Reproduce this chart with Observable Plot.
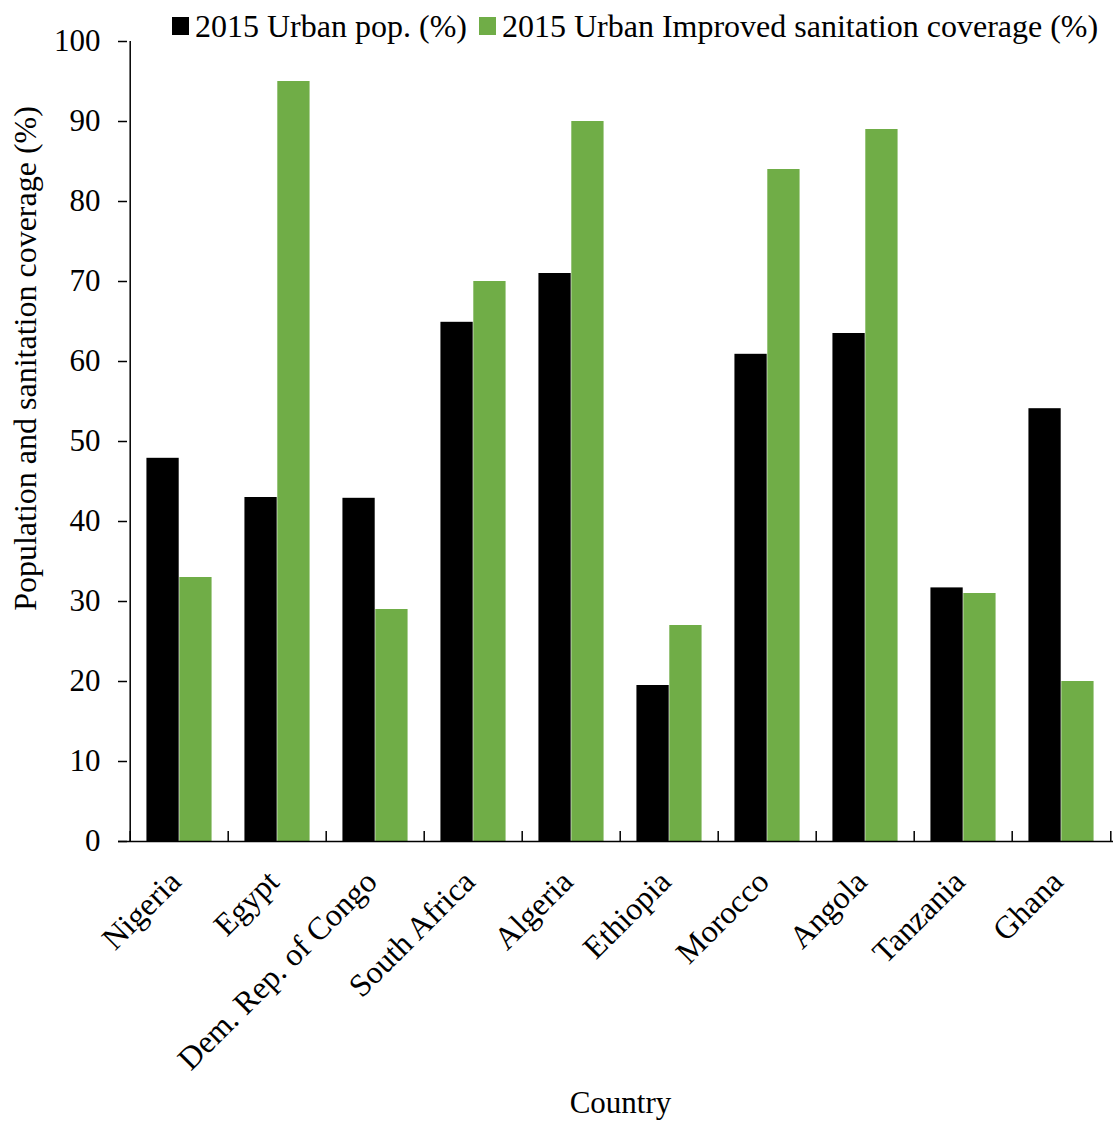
<!DOCTYPE html>
<html><head><meta charset="utf-8">
<script src="https://cdn.jsdelivr.net/npm/d3@7"></script>
<script src="https://cdn.jsdelivr.net/npm/@observablehq/plot@0.6"></script>
<style>
body{margin:0;background:#fff;font-family:"Liberation Serif","Times New Roman",serif;color:#000;}
#wrap{position:relative;width:1118px;height:1124px;}
#legend{position:absolute;top:6px;left:172px;display:flex;align-items:center;font-size:32px;white-space:nowrap;line-height:40px;}
.item{display:flex;align-items:center;margin-right:12px;}
.sw{display:inline-block;width:17px;height:18px;margin-right:6px;}
#chart{position:absolute;top:0;left:0;}
#chart svg, #chart svg text{font-family:"Liberation Serif","Times New Roman",serif !important;font-variant-numeric:normal !important;}
</style></head><body>
<div id="wrap"><div id="chart"></div><div id="legend"></div></div>
<script>
const countries = ["Nigeria", "Egypt", "Dem. Rep. of Congo", "South Africa", "Algeria", "Ethiopia", "Morocco", "Angola", "Tanzania", "Ghana"];
const urbanPop = [47.9, 43, 42.9, 64.9, 71, 19.5, 60.9, 63.5, 31.7, 54.1];
const sanitation = [33, 95, 29, 70, 90, 27, 84, 89, 31, 20];
const seriesNames = ["2015 Urban pop. (%)", "2015 Urban Improved sanitation coverage (%)"];
const seriesColors = ["#000000", "#70AD47"];
const yTicks = [0, 10, 20, 30, 40, 50, 60, 70, 80, 90, 100];
const yLabel = "Population and sanitation coverage (%)";
const xLabel = "Country";

const W = 1118, H = 1124, ML = 127, MR = 5, MT = 41, MB = 283;
const bw = (W - ML - MR) / countries.length;
const padOuter = bw / 6;
const barW = (bw - 2 * padOuter) / 2;

const popRows = countries.map((c, i) => ({country: c, value: urbanPop[i]}));
const sanRows = countries.map((c, i) => ({country: c, value: sanitation[i]}));

const legend = document.getElementById("legend");
seriesNames.forEach((n, i) => {
  const it = document.createElement("span");
  it.className = "item";
  it.innerHTML = `<span class="sw" style="background:${seriesColors[i]}"></span><span>${n}</span>`;
  legend.appendChild(it);
});

const chart = Plot.plot({
  width: W, height: H,
  marginLeft: ML, marginRight: MR, marginTop: MT, marginBottom: MB,
  style: {fontFamily: "Liberation Serif, serif", fontSize: "31px", color: "#000", background: "#fff"},
  x: {domain: countries, padding: 0},
  y: {domain: [0, 100]},
  marks: [
    Plot.barY(popRows, {x: "country", y: "value", fill: seriesColors[0], insetLeft: padOuter, insetRight: padOuter + barW}),
    Plot.barY(sanRows, {x: "country", y: "value", fill: seriesColors[1], insetLeft: padOuter + barW, insetRight: padOuter}),
    Plot.ruleY([0], {stroke: "#000", strokeWidth: 1.5, insetLeft: -9}),
    Plot.ruleX([countries[0]], {dx: -bw / 2, y1: 0, y2: 100, stroke: "#000", strokeWidth: 1.5}),
    Plot.ruleX(countries, {dx: -bw / 2, y1: 0, y2: 1.25, stroke: "#000", strokeWidth: 1.5}),
    Plot.ruleX([countries[countries.length - 1]], {dx: bw / 2, y1: 0, y2: 1.25, stroke: "#000", strokeWidth: 1.5}),
    Plot.axisY({ticks: yTicks, tickSize: 9, tickPadding: 18, fontSize: 31, label: null, strokeWidth: 1.5}),
    Plot.axisX({tickSize: 0, tickRotate: -45, tickPadding: 35, dx: -4, fontSize: 32, label: null}),
    Plot.text([yLabel], {frameAnchor: "left", textAnchor: "middle", lineAnchor: "middle", rotate: -90, dx: -102, dy: -83, fontSize: 32}),
    Plot.text([xLabel], {frameAnchor: "bottom", lineAnchor: "middle", dy: 262, fontSize: 31})
  ]
});
document.getElementById("chart").appendChild(chart);
</script>
</body></html>
